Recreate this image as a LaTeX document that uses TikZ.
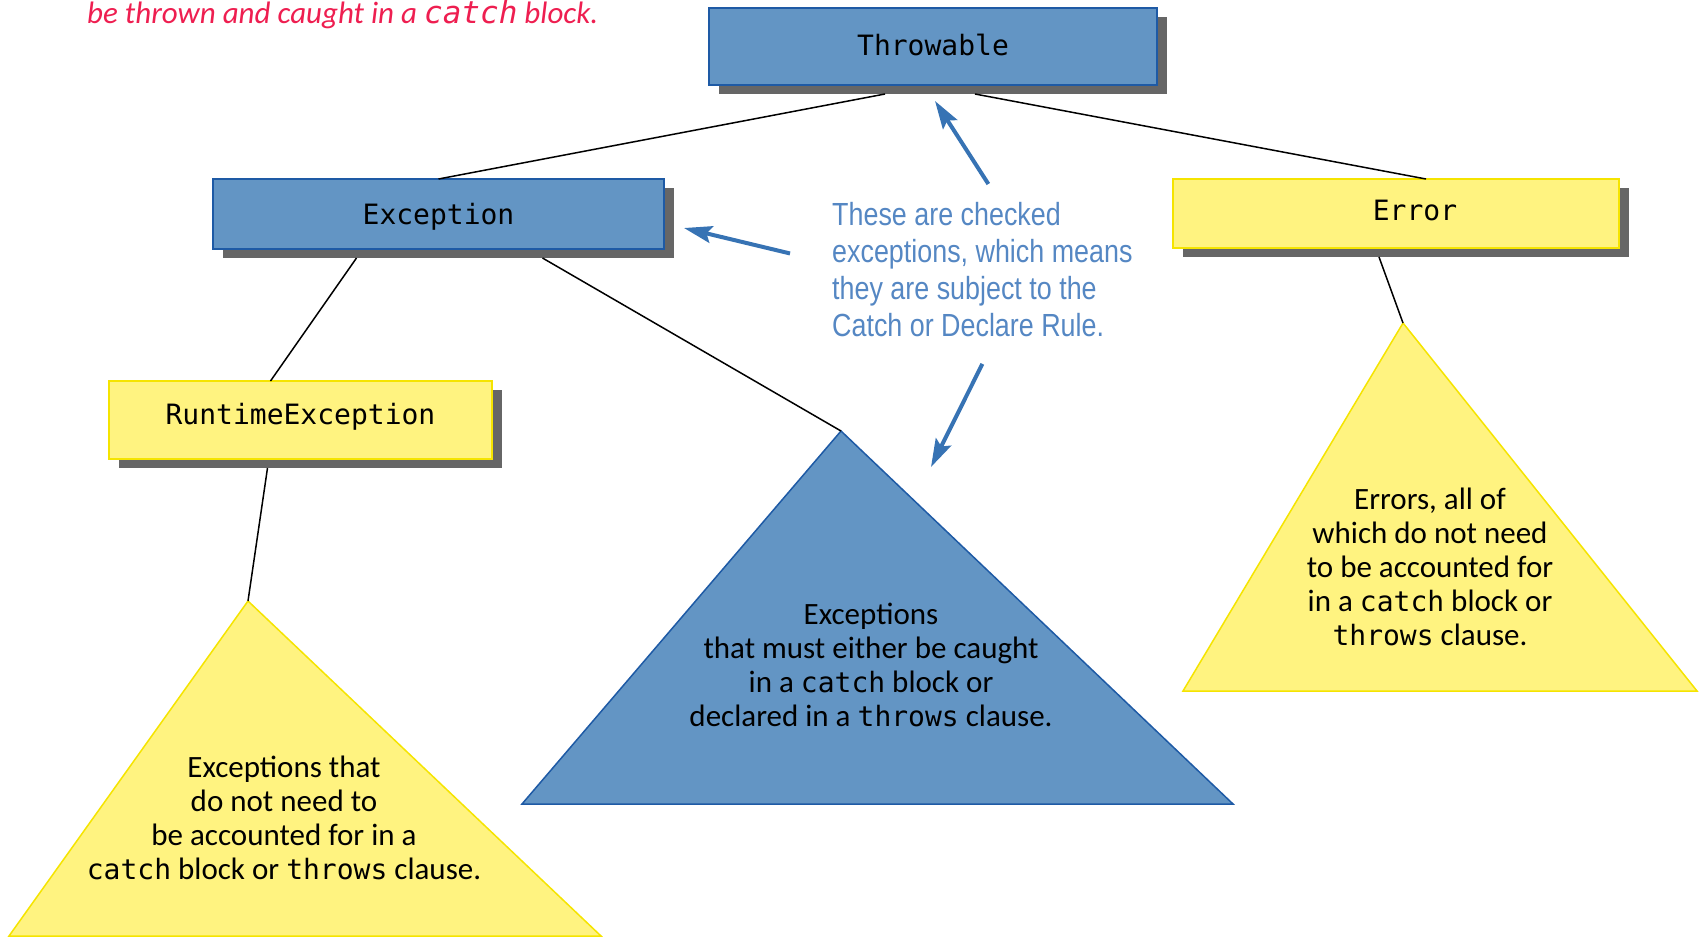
\documentclass[tikz,border=0pt]{standalone}
\usepackage{fontspec}
\setmainfont{Carlito}
\setmonofont{DejaVu Sans Mono}
\newfontfamily\notefont[FakeStretch=0.84]{Liberation Sans}
\usetikzlibrary{arrows.meta,shadows}

\definecolor{boxblue}{RGB}{99,149,196}
\definecolor{lineblue}{RGB}{30,90,165}
\definecolor{boxyellow}{RGB}{255,243,128}
\definecolor{lineyellow}{RGB}{245,228,0}
\definecolor{shadowgray}{RGB}{102,102,102}
\definecolor{arrowblue}{RGB}{55,115,180}
\definecolor{noteblue}{RGB}{85,135,195}
\definecolor{hintred}{RGB}{238,30,80}

\newcommand{\code}[1]{{\ttfamily\fontsize{28}{34}\selectfont #1}}
\newcommand{\nudge}[2]{\raisebox{#1}[\height][\depth]{#2}}

\begin{document}
\begin{tikzpicture}[x=1pt, y=-1pt,
  classbox/.style={rectangle, line width=2pt, outer sep=0pt,
    font=\ttfamily\fontsize{28}{34}\selectfont,
    drop shadow={shadow xshift=10pt, shadow yshift=-9pt, fill=shadowgray, opacity=1}},
  bluebox/.style={classbox, fill=boxblue, draw=lineblue},
  yellowbox/.style={classbox, fill=boxyellow, draw=lineyellow},
  treetext/.style={align=center, font=\fontsize{31}{34}\selectfont},
  link/.style={line width=1.5pt},
  notearrow/.style={draw=arrowblue, line width=4pt,
    -{Stealth[length=28pt, width=17pt, inset=5pt]}}]

  \useasboundingbox (0,0) rectangle (1699,937);

  % hint from the previous page
  \node[anchor=base west, inner sep=0pt, text=hintred,
    font=\itshape\fontsize{31}{36}\selectfont] (hint) at (87,23)
    {be thrown and caught in a \texttt{catch} block.};

  % class boxes
  \node[bluebox, minimum width=448pt, minimum height=77pt] (throwable) at (933,46.5) {\nudge{2pt}{Throwable}};
  \node[bluebox, minimum width=451pt, minimum height=70pt] (exception) at (438.5,214) {\nudge{-3pt}{Exception}};
  \node[yellowbox, minimum width=446pt, minimum height=69pt] (error) at (1396,213.5) {\hspace*{38pt}\nudge{3pt}{Error}};
  \node[yellowbox, minimum width=383pt, minimum height=78pt] (runtime) at (300.5,420) {\nudge{3pt}{RuntimeException}};

  % subtrees
  \coordinate (untop) at (248,601);
  \coordinate (checktop) at (841,431);
  \coordinate (errtop) at (1403,323);
  \filldraw[fill=boxyellow, draw=lineyellow, line width=1.5pt] (untop) -- (9,936) -- (601,936) -- cycle;
  \filldraw[fill=boxblue, draw=lineblue, line width=1.5pt] (checktop) -- (522,804) -- (1233,804) -- cycle;
  \filldraw[fill=boxyellow, draw=lineyellow, line width=1.5pt] (errtop) -- (1183,691) -- (1697,691) -- cycle;

  \node[treetext] (untext) at (284,818) {Exceptions that\\do not need to\\be accounted for in a\\%
    \code{catch} block or \code{throws} clause.};
  \node[treetext] (checktext) at (871,665) {Exceptions\\that must either be caught\\%
    in a \code{catch} block or\\declared in a \code{throws} clause.};
  \node[treetext] (errtext) at (1430,567) {Errors, all of\\which do not need\\to be accounted for\\%
    in a \code{catch} block or\\\code{throws} clause.};

  % hierarchy lines
  \draw[link] ([shift={(-48,9)}]throwable.south) -- (exception.north);
  \draw[link] ([shift={(42,9)}]throwable.south) -- ([shift={(30,0)}]error.north);
  \draw[link] ([shift={(-82,9)}]exception.south) -- ([shift={(-30,0)}]runtime.north);
  \draw[link] ([shift={(104,9)}]exception.south) -- (checktop);
  \draw[link] ([shift={(-17,9)}]error.south) -- (errtop);
  \draw[link] ([shift={(-33,9)}]runtime.south) -- (untop);

  % note on checked exceptions
  \node[anchor=north west, inner sep=0pt, align=left, text=noteblue,
    font=\notefont\fontsize{32}{37}\selectfont] (note) at (832,202)
    {These are checked\\exceptions, which means\\they are subject to the\\Catch or Declare Rule.};

  \draw[notearrow] ([shift={(6,-18)}]note.north) -- ([shift={(2,16)}]throwable.south);
  \draw[notearrow] ([shift={(-42,-16)}]note.west) -- ([shift={(20,14)}]exception.east);
  \draw[notearrow] ([shift={(0,27)}]note.south) -- ([shift={(90,36)}]checktop);
\end{tikzpicture}
\end{document}
